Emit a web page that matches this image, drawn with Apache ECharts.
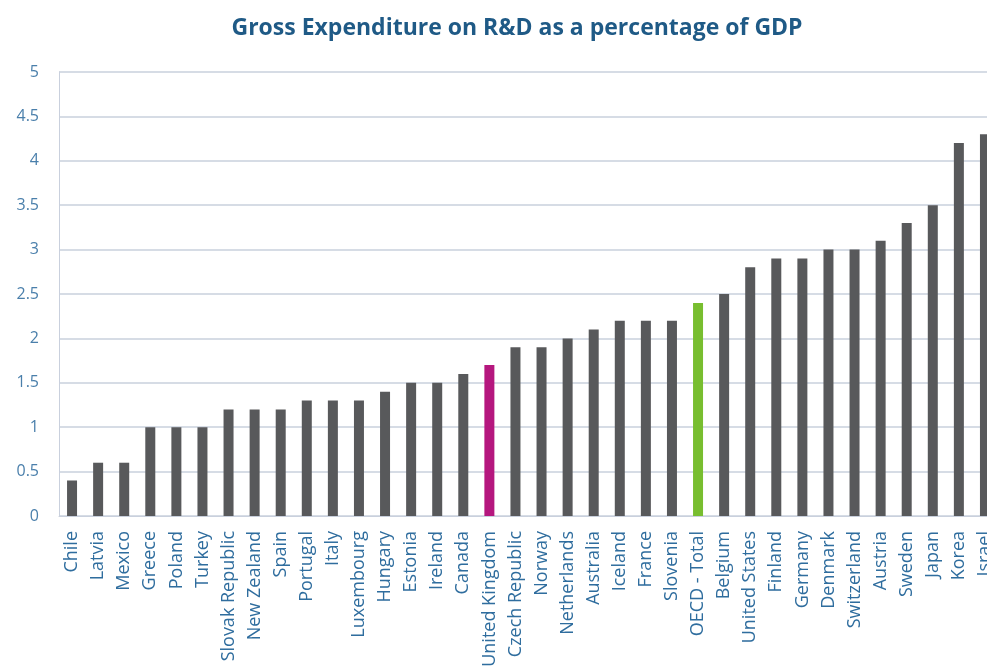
<!DOCTYPE html>
<html><head><meta charset="utf-8">
<script src="https://cdn.jsdelivr.net/npm/echarts@6/dist/echarts.min.js"></script>
<style>html,body{margin:0;padding:0;background:#fff;overflow:hidden;width:987px;height:672px;}#c{width:998px;height:672px;}</style>
</head><body><div id="c"></div>
<script>
const categories = ["Chile","Latvia","Mexico","Greece","Poland","Turkey","Slovak Republic","New Zealand","Spain","Portugal","Italy","Luxembourg","Hungary","Estonia","Ireland","Canada","United Kingdom","Czech Republic","Norway","Netherlands","Australia","Iceland","France","Slovenia","OECD - Total","Belgium","United States","Finland","Germany","Denmark","Switzerland","Austria","Sweden","Japan","Korea","Israel"];
const values = [0.4,0.6,0.6,1.0,1.0,1.0,1.2,1.2,1.2,1.3,1.3,1.3,1.4,1.5,1.5,1.6,1.7,1.9,1.9,2.0,2.1,2.2,2.2,2.2,2.4,2.5,2.8,2.9,2.9,3.0,3.0,3.1,3.3,3.5,4.2,4.3];
const yTicks = [0,0.5,1,1.5,2,2.5,3,3.5,4,4.5,5];
const highlight = {"United Kingdom":"#b5177e","OECD - Total":"#78be2f"};
const chart = echarts.init(document.getElementById('c'));
chart.setOption({
  animation:false,
  title:{text:"Gross Expenditure on R&D as a percentage of GDP",left:512,top:12,textAlign:'center',
    textStyle:{fontFamily:"Open Sans",fontWeight:'bold',fontSize:23,color:"#1f5a86"}},
  grid:{left:59,top:72,width:939,height:444},
  xAxis:{type:'category',data:categories,
    axisLine:{lineStyle:{color:'#c9d0dd'}},axisTick:{show:false},
    axisLabel:{rotate:90,interval:0,margin:15,fontFamily:"Open Sans",fontSize:18,color:'#2f6d9e'}},
  yAxis:{type:'value',min:0,max:5,interval:0.5,
    axisLine:{show:true,lineStyle:{color:'#c9d0dd'}},axisTick:{show:false},
    splitLine:{lineStyle:{color:'#c9d0dd',width:1.5}},
    axisLabel:{margin:20,fontFamily:"Open Sans",fontSize:16,color:'#4a7fab',
      formatter:v=>yTicks.includes(v)?String(v):''}},
  series:[{type:'bar',barWidth:10,
    data:values.map((v,i)=>({value:v,itemStyle:{color:highlight[categories[i]]||'#58595b'}}))}]
});
</script></body></html>
